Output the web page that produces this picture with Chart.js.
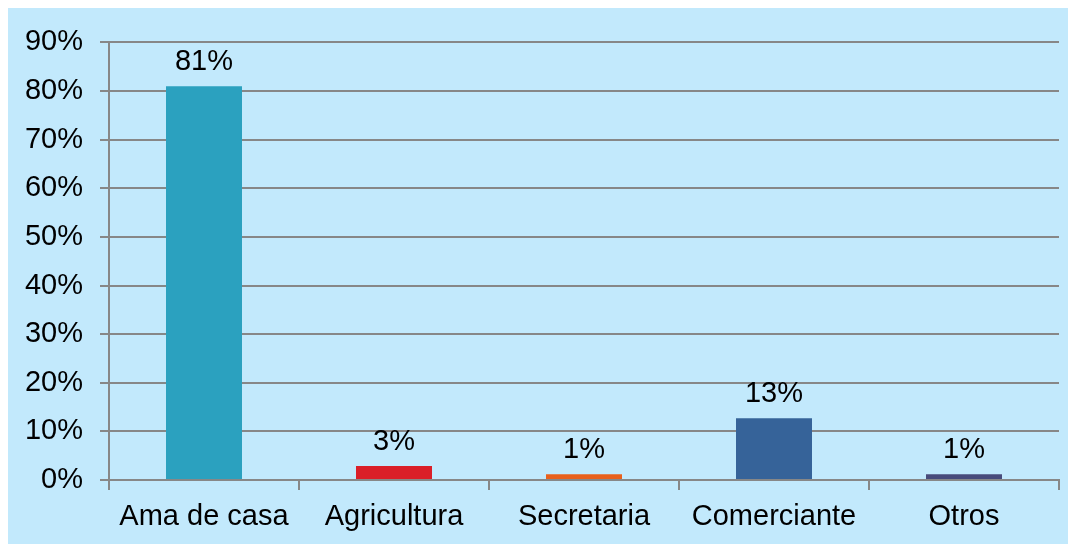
<!DOCTYPE html>
<html>
<head>
<meta charset="utf-8">
<script src="https://cdn.jsdelivr.net/npm/chart.js@4/dist/chart.umd.min.js"></script>
<style>
  html, body { margin: 0; padding: 0; background: #ffffff; }
  #wrap { position: absolute; left: 8px; top: 8px; width: 1060px; height: 536px; background: #C2E9FC; }
  canvas { display: block; }
</style>
</head>
<body>
<div id="wrap"><canvas id="c" width="1060" height="536"></canvas></div>
<script>
const categories = ["Ama de casa", "Agricultura", "Secretaria", "Comerciante", "Otros"];
const values = [81, 2.9, 1.2, 12.7, 1.2];
const barColors = ["#2BA1BF", "#DA1F28", "#E8601C", "#366399", "#484B7B"];
const yTicks = [0, 10, 20, 30, 40, 50, 60, 70, 80, 90];

const FONT = "'Liberation Sans', Arial, sans-serif";
const gridColor = "#878787";

const dataLabels = {
  id: "dataLabels",
  afterDatasetsDraw(chart) {
    const ctx = chart.ctx;
    const meta = chart.getDatasetMeta(0);
    ctx.save();
    ctx.font = "29px " + FONT;
    ctx.fillStyle = "#000000";
    ctx.textAlign = "center";
    ctx.textBaseline = "alphabetic";
    meta.data.forEach((bar, i) => {
      ctx.fillText(Math.round(values[i]) + "%", bar.x, bar.y - 16);
    });
    ctx.restore();
  }
};

new Chart(document.getElementById("c"), {
  type: "bar",
  data: {
    labels: categories,
    datasets: [{
      data: values,
      backgroundColor: barColors,
      borderWidth: 0,
      barPercentage: 0.4,
      categoryPercentage: 1.0
    }]
  },
  options: {
    responsive: false,
    animation: false,
    devicePixelRatio: 1,
    layout: { padding: { top: 31, right: 9, left: 0, bottom: 0 } },
    plugins: { legend: { display: false }, tooltip: { enabled: false } },
    scales: {
      x: {
        offset: true,
        grid: { offset: true, drawOnChartArea: false, drawTicks: true, tickLength: 10, color: gridColor, lineWidth: 2 },
        border: { display: true, color: gridColor, width: 2 },
        ticks: { color: "#000000", font: { family: FONT, size: 29 }, padding: 10, maxRotation: 0, autoSkip: false },
        afterFit(scale) { scale.height = 64; }
      },
      y: {
        min: 0,
        max: 90,
        afterBuildTicks(scale) { scale.ticks = yTicks.map(v => ({ value: v })); },
        grid: { color: gridColor, lineWidth: 2, drawTicks: true, tickLength: 9 },
        border: { display: true, color: gridColor, width: 2 },
        ticks: { color: "#000000", font: { family: FONT, size: 29 }, padding: 17, callback: v => v + "%" },
        afterFit(scale) { scale.width = 101; }
      }
    }
  },
  plugins: [dataLabels]
});
</script>
</body>
</html>
